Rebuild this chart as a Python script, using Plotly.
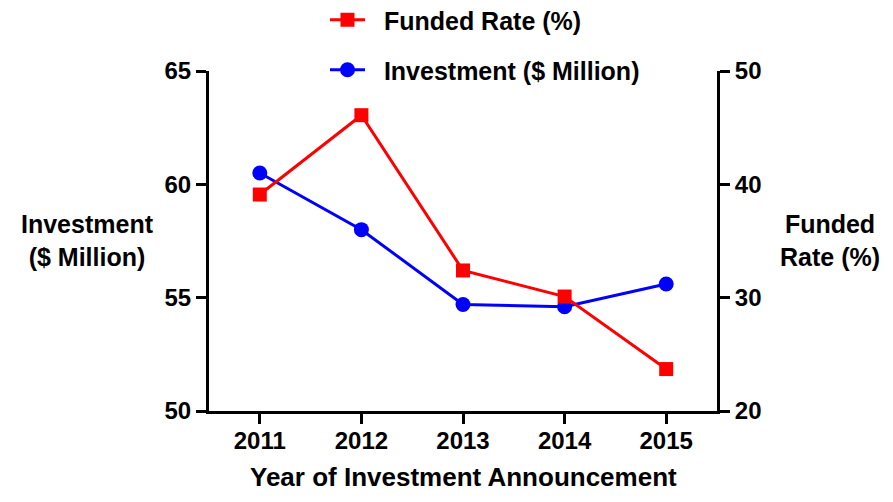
import plotly.graph_objects as go

years = [2011, 2012, 2013, 2014, 2015]
investment = [60.5, 58.0, 54.7, 54.6, 55.6]
funded_rate = [39.1, 46.1, 32.4, 30.1, 23.7]

FONT = 'Arial, Liberation Sans, sans-serif'
RED = '#ff0000'
BLUE = '#0000ff'

# the page puts the figure 8px in from the top-left corner
OFF = 8
W, H = 893 - OFF, 502 - OFF
# plot area edges in page pixels
X0, X1, Y0, Y1 = 209, 717, 71, 411
L, R, T, B = X0 - OFF, 893 - X1, Y0 - OFF, 502 - Y1
PW, PH = X1 - X0, Y1 - Y0


def px_x(x):
    return (x - X0) / PW


def px_y(y):
    return (Y1 - y) / PH


bold = lambda size: dict(family = FONT, size = size, color = 'black', weight = 'bold')

fig = go.Figure()

fig.add_trace(go.Scatter(
    x = years,
    y = funded_rate,
    name = '\u00a0\u00a0Funded Rate (%)',
    mode = 'lines+markers',
    yaxis = 'y2',
    legend = 'legend',
    line = dict(color = RED, width = 3),
    marker = dict(symbol = 'square', size = 14, color = RED)
))

fig.add_trace(go.Scatter(
    x = years,
    y = investment,
    name = '\u00a0\u00a0Investment ($ Million)',
    mode = 'lines+markers',
    legend = 'legend2',
    line = dict(color = BLUE, width = 3),
    marker = dict(symbol = 'circle', size = 15, color = BLUE)
))

axis_common = dict(
    showgrid = False,
    zeroline = False,
    showline = True,
    linecolor = 'black',
    linewidth = 3,
    ticks = 'outside',
    ticklen = 10,
    tickwidth = 3,
    tickcolor = 'black',
    tickfont = bold(24),
    automargin = False,
)

legend_common = dict(
    xanchor = 'left',
    yanchor = 'middle',
    bgcolor = 'rgba(0,0,0,0)',
    font = bold(25),
    itemwidth = 35,
)

fig.update_layout(
    width = W,
    height = H,
    plot_bgcolor = 'white',
    paper_bgcolor = 'white',
    margin = dict(l = L, r = R, t = T, b = B, autoexpand = False),
    showlegend = True,
    legend = dict(legend_common, x = px_x(325), y = px_y(20)),
    legend2 = dict(legend_common, x = px_x(325), y = px_y(70)),
    xaxis = dict(
        axis_common,
        range = [2010.5, 2015.5],
        tickvals = years,
        ticktext = [str(y) for y in years],
        ticklabelstandoff = -4,
    ),
    yaxis = dict(
        axis_common,
        range = [50, 65],
        tickvals = [50, 55, 60, 65],
    ),
    yaxis2 = dict(
        axis_common,
        range = [20, 50],
        tickvals = [20, 30, 40, 50],
        overlaying = 'y',
        side = 'right',
    ),
)

annotations = [
    ('Investment<br>($ Million)', 87, 240, 25),
    ('Funded<br>Rate (%)', 830, 240, 25),
    ('Year of Investment Announcement', 463, 477, 26),
]
for text, x, y, size in annotations:
    fig.add_annotation(
        text = text,
        x = px_x(x),
        y = px_y(y),
        xref = 'paper',
        yref = 'paper',
        xanchor = 'center',
        yanchor = 'middle',
        showarrow = False,
        font = bold(size),
    )

fig.write_html('out.html')
